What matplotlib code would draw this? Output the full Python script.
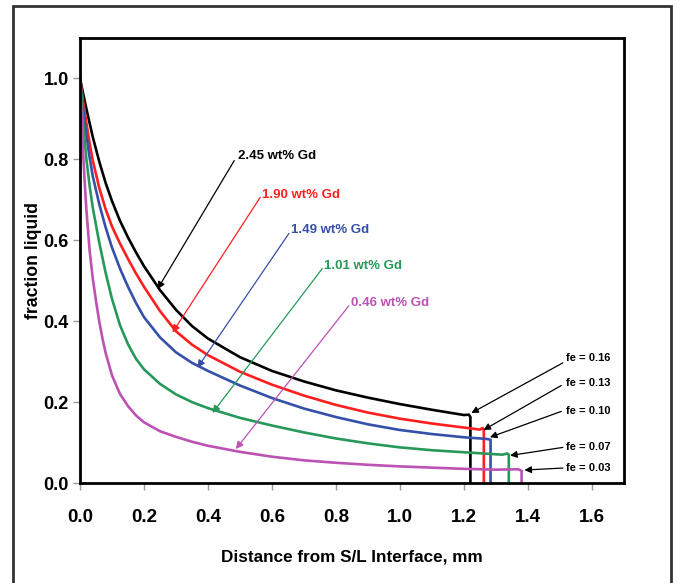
import matplotlib
matplotlib.use("Agg")
import matplotlib.pyplot as plt
from matplotlib.patches import Rectangle

# ---------------- data ----------------
x_245 = [0, 0.01, 0.02, 0.03, 0.04, 0.06, 0.08, 0.10, 0.125, 0.15, 0.175, 0.2, 0.25, 0.3, 0.35, 0.4,
         0.5, 0.6, 0.7, 0.8, 0.9, 1.0, 1.1, 1.2, 1.215, 1.22, 1.22]
y_245 = [1.0, 0.962, 0.925, 0.89, 0.855, 0.795, 0.742, 0.697, 0.648, 0.607, 0.57, 0.536, 0.477, 0.428, 0.388, 0.357,
         0.311, 0.277, 0.251, 0.229, 0.211, 0.195, 0.181, 0.168, 0.169, 0.163, 0.0]

x_190 = [0, 0.01, 0.02, 0.03, 0.04, 0.06, 0.08, 0.10, 0.125, 0.15, 0.175, 0.2, 0.25, 0.3, 0.35, 0.4,
         0.5, 0.6, 0.7, 0.8, 0.9, 1.0, 1.1, 1.2, 1.24, 1.25, 1.258, 1.262, 1.262]
y_190 = [1.0, 0.942, 0.89, 0.84, 0.797, 0.73, 0.677, 0.634, 0.592, 0.554, 0.518, 0.485, 0.425, 0.375, 0.342, 0.316,
         0.275, 0.243, 0.216, 0.193, 0.174, 0.159, 0.147, 0.137, 0.133, 0.132, 0.136, 0.13, 0.0]

x_149 = [0, 0.01, 0.02, 0.03, 0.04, 0.06, 0.08, 0.10, 0.125, 0.15, 0.175, 0.2, 0.25, 0.3, 0.35, 0.4,
         0.5, 0.6, 0.7, 0.8, 0.9, 1.0, 1.1, 1.2, 1.27, 1.283, 1.283]
y_149 = [1.0, 0.925, 0.86, 0.805, 0.758, 0.69, 0.632, 0.582, 0.53, 0.485, 0.445, 0.41, 0.36, 0.323, 0.297, 0.277,
         0.241, 0.21, 0.184, 0.163, 0.145, 0.131, 0.121, 0.113, 0.109, 0.107, 0.0]

x_101 = [0, 0.01, 0.02, 0.03, 0.04, 0.06, 0.08, 0.10, 0.125, 0.15, 0.175, 0.2, 0.25, 0.3, 0.35, 0.4,
         0.5, 0.6, 0.7, 0.8, 0.9, 1.0, 1.1, 1.2, 1.3, 1.32, 1.335, 1.34, 1.34]
y_101 = [1.0, 0.89, 0.80, 0.735, 0.68, 0.595, 0.52, 0.455, 0.39, 0.343, 0.307, 0.281, 0.245, 0.219, 0.2, 0.185,
         0.161, 0.142, 0.125, 0.11, 0.098, 0.088, 0.081, 0.076, 0.071, 0.07, 0.073, 0.07, 0.0]

x_046 = [0, 0.005, 0.01, 0.015, 0.02, 0.03, 0.04, 0.05, 0.06, 0.07, 0.08, 0.10, 0.125, 0.15, 0.175, 0.2,
         0.25, 0.3, 0.35, 0.4, 0.5, 0.6, 0.7, 0.8, 0.9, 1.0, 1.1, 1.2, 1.3, 1.37, 1.38, 1.38]
y_046 = [1.0, 0.90, 0.81, 0.74, 0.675, 0.575, 0.505, 0.45, 0.40, 0.358, 0.322, 0.266, 0.22, 0.19, 0.167, 0.15,
         0.128, 0.114, 0.102, 0.092, 0.077, 0.065, 0.056, 0.05, 0.045, 0.041, 0.038, 0.035, 0.033, 0.034, 0.03, 0.0]

series_labels = ["2.45 wt% Gd", "1.90 wt% Gd", "1.49 wt% Gd", "1.01 wt% Gd", "0.46 wt% Gd"]
fe_labels = ["fe = 0.16", "fe = 0.13", "fe = 0.10", "fe = 0.07", "fe = 0.03"]
x_ticks = [0.0, 0.2, 0.4, 0.6, 0.8, 1.0, 1.2, 1.4, 1.6]
y_ticks = [0.0, 0.2, 0.4, 0.6, 0.8, 1.0]

# ---------------- style ----------------
plt.rcParams['font.family'] = ["Liberation Sans", "DejaVu Sans"]
plt.rcParams['font.weight'] = 'bold'

colors = ["#000000", "#ff1f1f", "#3550a8", "#26995a", "#bb52b4"]

fig = plt.figure(figsize=(6.78, 5.83), dpi=100)
ax = fig.add_axes([80 / 678, 1 - 483 / 583, (624 - 80) / 678, (483 - 38) / 583])

series = [(x_245, y_245), (x_190, y_190), (x_149, y_149), (x_101, y_101), (x_046, y_046)]
for (xs, ys), c in zip(series, colors):
    ax.plot(xs, ys, color=c, lw=1.9, solid_joinstyle='round')

ax.set_xlim(0, 1.7)
ax.set_ylim(0, 1.1)
ax.set_xticks(x_ticks)
ax.set_yticks(y_ticks)
ax.set_xticklabels([f"{v:.1f}" for v in x_ticks], fontsize=13.5, fontweight='bold')
ax.set_yticklabels([f"{v:.1f}" for v in y_ticks], fontsize=13, fontweight='bold')
ax.tick_params(axis='x', direction='out', length=5, width=1, color='#999999', pad=14)
ax.tick_params(axis='y', direction='out', length=5, width=1, color='#999999', pad=3)
for s in ax.spines.values():
    s.set_linewidth(2.0)
    s.set_color('black')

ax.set_xlabel("Distance from S/L Interface, mm", fontsize=12.3, fontweight='bold', labelpad=17)
ax.set_ylabel("fraction liquid", fontsize=12.7, fontweight='bold', labelpad=1)

# composition labels with arrows (text position, arrow start, arrow tip)
label_pos = [(0.494, 0.809), (0.569, 0.712), (0.66, 0.625), (0.763, 0.537), (0.846, 0.446)]
arrow_start = [(0.482, 0.797), (0.563, 0.706), (0.653, 0.617), (0.757, 0.530), (0.840, 0.438)]
arrow_tip = [(0.242, 0.479), (0.289, 0.372), (0.367, 0.285), (0.414, 0.173), (0.487, 0.084)]
for lab, tp, st, tip, c in zip(series_labels, label_pos, arrow_start, arrow_tip, colors):
    ax.annotate("", xy=tip, xytext=st,
                arrowprops=dict(arrowstyle='-|>', color=c, lw=0.9, mutation_scale=11,
                                shrinkA=0, shrinkB=0))
    ax.text(tp[0], tp[1], lab, color=c, fontsize=9.5, fontweight='bold', ha='left', va='center')

fe_text_y = [0.309, 0.247, 0.179, 0.09, 0.038]
fe_start = [(1.509, 0.297), (1.504, 0.241), (1.504, 0.177), (1.509, 0.088), (1.509, 0.037)]
fe_tip = [(1.223, 0.173), (1.261, 0.131), (1.281, 0.113), (1.344, 0.068), (1.389, 0.032)]
for lab, ty, st, tip in zip(fe_labels, fe_text_y, fe_start, fe_tip):
    ax.annotate("", xy=tip, xytext=st,
                arrowprops=dict(arrowstyle='-|>', color='black', lw=0.9, mutation_scale=10,
                                shrinkA=0, shrinkB=0))
    ax.text(1.52, ty, lab, color='black', fontsize=8, fontweight='bold', ha='left', va='center')

# outer frame (display coords, origin bottom-left); bottom edge runs off the figure
fig.patches.append(Rectangle((13, -20), 658, 597, transform=None, fill=False,
                             edgecolor='#333333', lw=2.0, figure=fig))

fig.savefig("out.png", dpi=100)
